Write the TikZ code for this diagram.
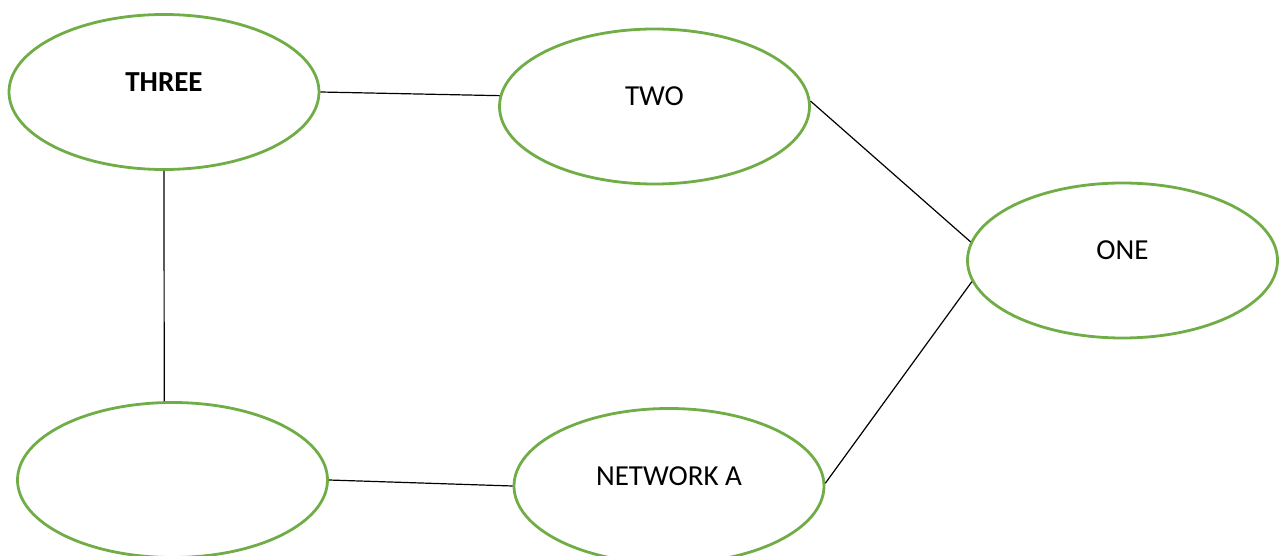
\documentclass[tikz,border=0pt]{standalone}
\usepackage{fontspec}
\setmainfont{Carlito}
\usepackage{xcolor}
\usetikzlibrary{shapes.geometric}
\definecolor{node-green}{HTML}{70AD47}

\begin{document}
\begin{tikzpicture}[x=1pt, y=-1pt,
    netnode/.style={ellipse, draw=node-green, line width=2.8pt,
                    minimum width=310pt, minimum height=155pt, inner sep=0pt},
    nodetext/.style={font=\fontsize{29}{35}\selectfont, yshift=10pt},
    link/.style={draw=black, line width=1.2pt}]
    % Diagram: five network rings linked in a loop.
    % Coordinates: (x, y) in px, y grows downwards
    %   THREE at (164,92), TWO at (654,106), ONE at (1122,260)
    %   unnamed ring at (172,480), NETWORK A at (669,486)
    \useasboundingbox (0,0) rectangle (1280,556);
    \clip (0,0) rectangle (1280,556);
    \node[netnode, label={[nodetext]center:\textbf{THREE}}] (three) at (164,92) {};
    \node[netnode, label={[nodetext]center:TWO}] (two) at (654.5,106.5) {};
    \node[netnode, label={[nodetext]center:ONE}] (one) at (1122.5,260.5) {};
    \node[netnode] (blank) at (172.5,480) {};
    \node[netnode, label={[nodetext]center:NETWORK A}] (neta) at (669,486) {};
    \draw[link] (three.east) -- (two.176);
    \draw[link] (two.2) -- (one.173);
    \draw[link] (one.188) -- (neta.1);
    \draw[link] (three.south) -- (blank.96);
    \draw[link] (blank.east) -- (neta.west);
\end{tikzpicture}
\end{document}
